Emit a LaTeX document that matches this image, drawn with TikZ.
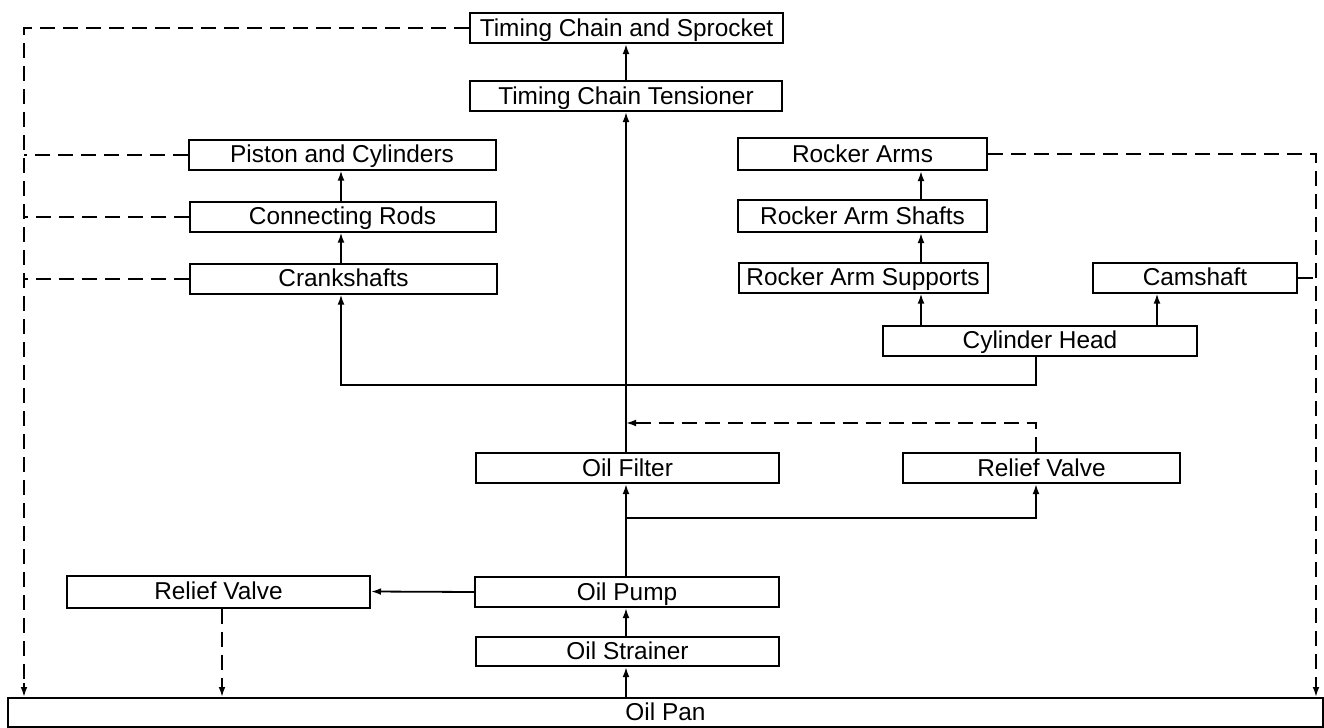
\documentclass[tikz,border=0pt]{standalone}
\usepackage{fontspec}
\setmainfont{Liberation Sans}
\usetikzlibrary{arrows.meta}
\begin{document}
\begin{tikzpicture}[x=0.5pt,y=-0.5pt,
  box/.style={draw, line width=1pt, inner sep=0pt, minimum height=15pt, text height=8.8pt, text depth=0.5pt, font=\fontsize{12.2pt}{14pt}\selectfont},
  conn/.style={line width=0.9pt},
  arr/.style={conn, -{Latex[length=5pt,width=3.4pt]}},
  dsh/.style={line width=1pt, dash pattern=on 7.5pt off 4pt}]
\useasboundingbox (0,0) rectangle (1324,728);
% nodes
\node[box, minimum width=156.5pt] (tcs) at (626.5,28) {Timing Chain and Sprocket};
\node[box, minimum width=156pt] (tct) at (626,96) {Timing Chain Tensioner};
\node[box, minimum width=153.5pt] (pc) at (342,154.5) {Piston and Cylinders};
\node[box, minimum width=153pt] (cr) at (342.5,216.5) {Connecting Rods};
\node[box, minimum width=153.5pt] (cs) at (343.5,278.5) {Crankshafts};
\node[box, minimum width=124.5pt, minimum height=16pt] (ra) at (862.5,154) {Rocker Arms};
\node[box, minimum width=124.5pt, minimum height=16pt] (ras) at (862.5,216) {Rocker Arm Shafts};
\node[box, minimum width=124.5pt] (rasup) at (863,277.5) {Rocker Arm Supports};
\node[box, minimum width=102pt] (cam) at (1195,277.5) {Camshaft};
\node[box, minimum width=157pt] (ch) at (1040,340.5) {Cylinder Head};
\node[box, minimum width=151.5pt] (of) at (627.5,468) {Oil Filter};
\node[box, minimum width=138.5pt] (rvr) at (1041.5,468) {Relief Valve};
\node[box, minimum width=152pt] (op) at (627,592) {Oil Pump};
\node[box, minimum width=151.5pt, minimum height=16pt] (rvl) at (218.5,591.5) {Relief Valve};
\node[box, minimum width=151.5pt, minimum height=14.5pt] (os) at (627.5,651.5) {Oil Strainer};
\node[box, minimum width=657.5pt, minimum height=14.5pt] (pan) at (665.5,712.5) {Oil Pan};
% helper coordinates
\coordinate (xL) at (24,0);
\coordinate (xR) at (1316,0);
\coordinate (xC) at (626,0);
\coordinate (xK) at (341,0);
\coordinate (xRk) at (921,0);
\coordinate (xCm) at (1157,0);
\coordinate (xH) at (1036,0);
\coordinate (xV) at (222,0);
\coordinate (yBus) at (0,385);
\coordinate (yD) at (0,423);
\coordinate (yB) at (0,518);
% central column
\draw[arr] (tct.north -| xC) -- (tcs.south -| xC);
\draw[arr] (of.north -| xC) -- (tct.south -| xC);
\draw[arr] (op.north -| xC) -- (of.south -| xC);
\draw[arr] (yB -| xC) -| (rvr.south -| xH);
\draw[dsh] (rvr.north -| xH) |- ([xshift=5pt]yD -| xC);
\draw[arr] ([xshift=7pt]yD -| xC) -- (yD -| xC);
\draw[arr] (os.north -| xC) -- (op.south -| xC);
\draw[arr] (pan.north -| xC) -- (os.south -| xC);
\draw[arr] (op.west) -- (rvl.east);
\draw[dsh] (rvl.south -| xV) -- ([yshift=5pt]pan.north -| xV);
\draw[arr] ([yshift=7pt]pan.north -| xV) -- (pan.north -| xV);
% bus
\draw[arr] (ch.south -| xH) -- (yBus -| xH) -| (cs.south -| xK);
\draw[arr] (cs.north -| xK) -- (cr.south -| xK);
\draw[arr] (cr.north -| xK) -- (pc.south -| xK);
\draw[arr] (ch.north -| xRk) -- (rasup.south -| xRk);
\draw[arr] (rasup.north -| xRk) -- (ras.south -| xRk);
\draw[arr] (ras.north -| xRk) -- (ra.south -| xRk);
\draw[arr] (ch.north -| xCm) -- (cam.south -| xCm);
% dashed return lines left
\draw[dsh] (tcs.west) -| ([yshift=5pt]pan.north -| xL);
\draw[arr] ([yshift=7pt]pan.north -| xL) -- (pan.north -| xL);
\draw[dsh] (pc.west) -- (pc.west -| xL);
\draw[dsh] (cr.west) -- (cr.west -| xL);
\draw[dsh] (cs.west) -- (cs.west -| xL);
% dashed return lines right
\draw[dsh] (ra.east) -| ([yshift=5pt]pan.north -| xR);
\draw[arr] ([yshift=7pt]pan.north -| xR) -- (pan.north -| xR);
\draw[dsh] (cam.east) -- (cam.east -| xR);
\end{tikzpicture}
\end{document}
